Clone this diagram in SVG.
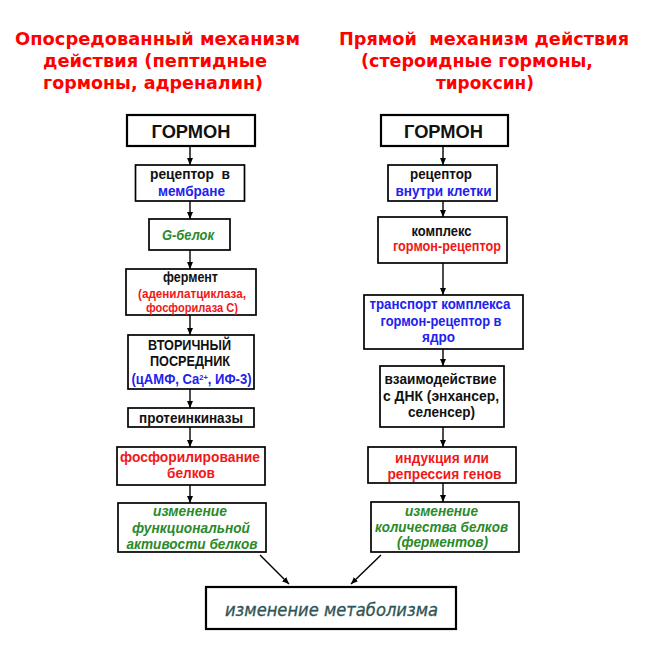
<svg xmlns="http://www.w3.org/2000/svg" width="646" height="645" viewBox="0 0 646 645">
<defs>
<marker id="ah" markerUnits="userSpaceOnUse" markerWidth="8" markerHeight="8" refX="7" refY="3" orient="auto">
<path d="M0,0 L7,3 L0,6 z" fill="#000"/>
</marker>
<style>
.box{fill:#fff;stroke:#000;stroke-width:1.7}
.bbox{fill:#fff;stroke:#000;stroke-width:2.2}
.t{font-family:"Liberation Sans",Arial,sans-serif;font-weight:bold;text-anchor:middle}
.title{font-family:"DejaVu Sans",Verdana,sans-serif;font-weight:bold;font-size:18px;fill:#f00}
.k{fill:#111;font-size:14px}
.h{fill:#111;font-size:19px}
.b{fill:#2222ee;font-size:14px}
.r{fill:#f01818;font-size:14px}
.rs{fill:#f01818;font-size:12px}
.rl{fill:#f01818;font-size:15px}
.g{fill:#2a8a2a;font-size:14px;font-style:italic}
.m{font-family:"DejaVu Sans",Verdana,sans-serif;font-style:italic;font-size:18px;fill:#2f5555;stroke:#2f5555;stroke-width:0.35;text-anchor:middle}
.c{stroke:#000;stroke-width:1.4;fill:none;marker-end:url(#ah)}
</style>
</defs>
<rect width="646" height="645" fill="#fff"/>

<g id="titles">
<text class="title" x="15" y="44.5" textLength="285" lengthAdjust="spacingAndGlyphs">Опосредованный механизм</text>
<text class="title" x="43" y="66.5" textLength="224" lengthAdjust="spacingAndGlyphs">действия (пептидные</text>
<text class="title" x="43" y="88.5" textLength="220" lengthAdjust="spacingAndGlyphs">гормоны, адреналин)</text>
<text class="title" x="339" y="44.5" textLength="290" lengthAdjust="spacingAndGlyphs" xml:space="preserve">Прямой  механизм действия</text>
<text class="title" x="361" y="66.5" textLength="232" lengthAdjust="spacingAndGlyphs">(стероидные гормоны,</text>
<text class="title" x="436" y="88.5" textLength="98" lengthAdjust="spacingAndGlyphs">тироксин)</text>
</g>

<g id="connectors">
<line class="c" x1="190" y1="146" x2="190" y2="165"/>
<line class="c" x1="190" y1="201" x2="190" y2="219"/>
<line class="c" x1="190" y1="250" x2="190" y2="269"/>
<line class="c" x1="190" y1="315" x2="190" y2="335"/>
<line class="c" x1="190" y1="389" x2="190" y2="408"/>
<line class="c" x1="190" y1="427" x2="190" y2="447"/>
<line class="c" x1="190" y1="485" x2="190" y2="503"/>
<line class="c" x1="443" y1="146" x2="443" y2="165"/>
<line class="c" x1="443" y1="201" x2="443" y2="217"/>
<line class="c" x1="443" y1="263" x2="443" y2="295"/>
<line class="c" x1="443" y1="349" x2="443" y2="366"/>
<line class="c" x1="443" y1="427" x2="443" y2="447"/>
<line class="c" x1="443" y1="483" x2="443" y2="502"/>
<line class="c" x1="260" y1="555" x2="289" y2="584"/>
<line class="c" x1="381" y1="555" x2="351" y2="584"/>
</g>

<g id="L1"><rect class="bbox" x="127" y="115" width="128" height="31"/>
<text class="t h" x="191" y="137.5" textLength="79" lengthAdjust="spacingAndGlyphs">ГОРМОН</text></g>

<g id="L2"><rect class="box" x="135.5" y="165" width="109" height="36"/>
<text class="t k" x="190" y="179" textLength="80" lengthAdjust="spacingAndGlyphs" xml:space="preserve">рецептор  в</text>
<text class="t b" x="191.5" y="196" textLength="67" lengthAdjust="spacingAndGlyphs">мембране</text></g>

<g id="L3"><rect class="box" x="149" y="219" width="81" height="31"/>
<text class="t g" x="188" y="239.5" textLength="52" lengthAdjust="spacingAndGlyphs">G-белок</text></g>

<g id="L4"><rect class="box" x="126" y="269" width="130" height="46"/>
<text class="t k" x="190.5" y="282" textLength="55" lengthAdjust="spacingAndGlyphs">фермент</text>
<text class="t rs" x="192" y="298" textLength="108" lengthAdjust="spacingAndGlyphs">(аденилатциклаза,</text>
<text class="t rs" x="192" y="311.5" textLength="92" lengthAdjust="spacingAndGlyphs">фосфорилаза С)</text></g>

<g id="L5"><rect class="box" x="128" y="335" width="126" height="54"/>
<text class="t k" x="189.5" y="350" textLength="83" lengthAdjust="spacingAndGlyphs">ВТОРИЧНЫЙ</text>
<text class="t k" x="190" y="365.5" textLength="80" lengthAdjust="spacingAndGlyphs">ПОСРЕДНИК</text>
<text class="t b" x="191.5" y="384" textLength="120" lengthAdjust="spacingAndGlyphs">(цАМФ, Ca<tspan font-size="8" dy="-4">2+</tspan><tspan dy="4">, ИФ-3)</tspan></text></g>

<g id="L6"><rect class="box" x="128" y="408" width="126" height="19"/>
<text class="t k" x="191" y="422.5" textLength="104" lengthAdjust="spacingAndGlyphs">протеинкиназы</text></g>

<g id="L7"><rect class="box" x="117" y="447" width="148" height="38"/>
<text class="t rl" x="190" y="462" textLength="140" lengthAdjust="spacingAndGlyphs">фосфорилирование</text>
<text class="t rl" x="191" y="478" textLength="48" lengthAdjust="spacingAndGlyphs">белков</text></g>

<g id="L8"><rect class="box" x="118" y="503" width="148" height="49"/>
<text class="t g" x="190" y="516" textLength="74" lengthAdjust="spacingAndGlyphs">изменение</text>
<text class="t g" x="191" y="532.5" textLength="118" lengthAdjust="spacingAndGlyphs">функциональной</text>
<text class="t g" x="192" y="549" textLength="131" lengthAdjust="spacingAndGlyphs">активости белков</text></g>

<g id="R1"><rect class="bbox" x="381" y="115" width="127" height="31"/>
<text class="t h" x="443.5" y="137.5" textLength="79" lengthAdjust="spacingAndGlyphs">ГОРМОН</text></g>

<g id="R2"><rect class="box" x="388" y="165" width="109" height="36"/>
<text class="t k" x="441" y="178.5" textLength="62" lengthAdjust="spacingAndGlyphs">рецептор</text>
<text class="t b" x="443.5" y="195.5" textLength="96" lengthAdjust="spacingAndGlyphs">внутри клетки</text></g>

<g id="R3"><rect class="box" x="378" y="217" width="129" height="46"/>
<text class="t k" x="441.5" y="236" textLength="60" lengthAdjust="spacingAndGlyphs">комплекс</text>
<text class="t r" x="447" y="250.5" textLength="108" lengthAdjust="spacingAndGlyphs">гормон-рецептор</text></g>

<g id="R4"><rect class="box" x="364" y="295" width="159" height="54"/>
<text class="t b" x="440" y="309" textLength="141" lengthAdjust="spacingAndGlyphs">транспорт комплекса</text>
<text class="t b" x="441" y="325.5" textLength="121" lengthAdjust="spacingAndGlyphs">гормон-рецептор в</text>
<text class="t b" x="438.5" y="341.5" textLength="33" lengthAdjust="spacingAndGlyphs">ядро</text></g>

<g id="R5"><rect class="box" x="380" y="366" width="124" height="61"/>
<text class="t k" x="440.5" y="384" textLength="112" lengthAdjust="spacingAndGlyphs">взаимодействие</text>
<text class="t k" x="441" y="400.5" textLength="116" lengthAdjust="spacingAndGlyphs">с ДНК (энхансер,</text>
<text class="t k" x="441.5" y="417" textLength="67" lengthAdjust="spacingAndGlyphs">селенсер)</text></g>

<g id="R6"><rect class="box" x="368" y="447" width="148" height="36"/>
<text class="t rl" x="442" y="462.5" textLength="94" lengthAdjust="spacingAndGlyphs">индукция или</text>
<text class="t rl" x="444.5" y="478.5" textLength="114" lengthAdjust="spacingAndGlyphs">репрессия генов</text></g>

<g id="R7"><rect class="box" x="371" y="502" width="148" height="50"/>
<text class="t g" x="441.5" y="515.5" textLength="73" lengthAdjust="spacingAndGlyphs">изменение</text>
<text class="t g" x="441.5" y="531.5" textLength="133" lengthAdjust="spacingAndGlyphs">количества белков</text>
<text class="t g" x="442.5" y="547" textLength="91" lengthAdjust="spacingAndGlyphs">(ферментов)</text></g>

<g id="B"><rect class="bbox" x="206" y="587" width="250" height="42"/>
<text class="m" x="331.5" y="615.5" textLength="213" lengthAdjust="spacingAndGlyphs">изменение метаболизма</text></g>
</svg>
